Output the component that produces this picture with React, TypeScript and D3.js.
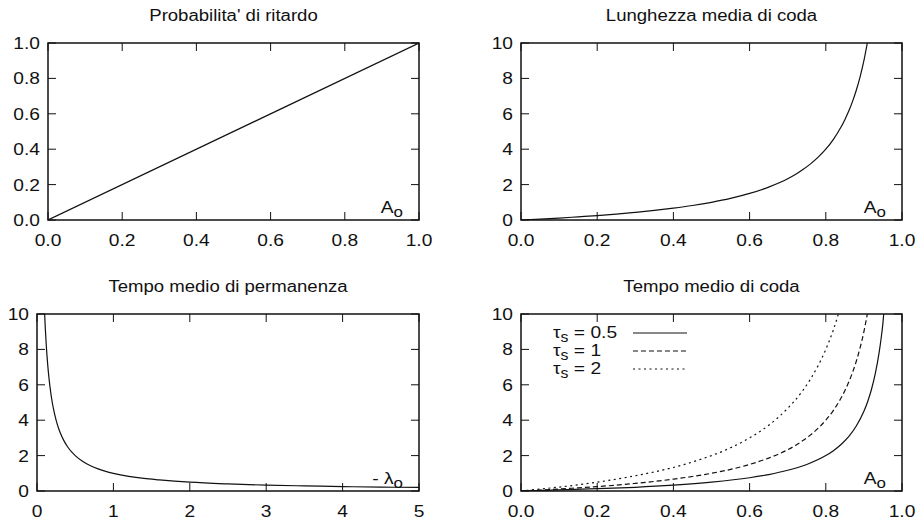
import React, { useEffect, useRef } from "react";
import * as d3 from "d3";

const W = 918;
const H = 522;
const FONT = "'Liberation Sans', Arial, Helvetica, sans-serif";

// panel titles
const titles = [
  "Probabilita' di ritardo",
  "Lunghezza media di coda",
  "Tempo medio di permanenza",
  "Tempo medio di coda",
];

// ticks
const ticks01 = [0, 0.2, 0.4, 0.6, 0.8, 1.0];
const ticks10 = [0, 2, 4, 6, 8, 10];
const ticks5 = [0, 1, 2, 3, 4, 5];

// probabilita' di ritardo vs A
const probA = [0, 1];
const probP = [0, 1];

// lunghezza media di coda vs A
const codaA = [0, 0.05, 0.1, 0.15, 0.2, 0.25, 0.3, 0.35, 0.4, 0.45, 0.5, 0.55, 0.6, 0.65, 0.7, 0.72, 0.74, 0.76, 0.78, 0.8, 0.82, 0.84, 0.85, 0.86, 0.87, 0.88, 0.89, 0.9, 0.909];
const codaL = [0, 0.05, 0.11, 0.18, 0.25, 0.33, 0.43, 0.54, 0.67, 0.82, 1.0, 1.22, 1.5, 1.86, 2.33, 2.57, 2.85, 3.17, 3.55, 4.0, 4.56, 5.25, 5.67, 6.14, 6.69, 7.33, 8.09, 9.0, 10.0];

// tempo medio di permanenza vs lambda
const permLambda = [0.1, 0.11, 0.12, 0.13, 0.14, 0.16, 0.18, 0.2, 0.22, 0.25, 0.28, 0.3, 0.35, 0.4, 0.45, 0.5, 0.6, 0.7, 0.8, 0.9, 1.0, 1.2, 1.4, 1.6, 1.8, 2.0, 2.5, 3.0, 3.5, 4.0, 4.5, 5.0];
const permT = [10, 9.09, 8.33, 7.69, 7.14, 6.25, 5.56, 5.0, 4.55, 4.0, 3.57, 3.33, 2.86, 2.5, 2.22, 2.0, 1.67, 1.43, 1.25, 1.11, 1.0, 0.83, 0.71, 0.63, 0.56, 0.5, 0.4, 0.33, 0.29, 0.25, 0.22, 0.2];

// tempo medio di coda vs A, three tau_s
const tau05A = [0, 0.1, 0.2, 0.3, 0.4, 0.5, 0.6, 0.65, 0.7, 0.75, 0.8, 0.82, 0.84, 0.86, 0.88, 0.9, 0.91, 0.92, 0.93, 0.94, 0.945, 0.95, 0.952];
const tau05W = [0, 0.06, 0.13, 0.21, 0.33, 0.5, 0.75, 0.93, 1.17, 1.5, 2.0, 2.28, 2.63, 3.07, 3.67, 4.5, 5.06, 5.75, 6.64, 7.83, 8.59, 9.5, 10.0];
const tau1A = codaA;
const tau1W = codaL;
const tau2A = [0, 0.05, 0.1, 0.15, 0.2, 0.25, 0.3, 0.35, 0.4, 0.45, 0.5, 0.55, 0.6, 0.65, 0.7, 0.72, 0.74, 0.76, 0.78, 0.8, 0.81, 0.82, 0.833];
const tau2W = [0, 0.11, 0.22, 0.35, 0.5, 0.67, 0.86, 1.08, 1.33, 1.64, 2.0, 2.44, 3.0, 3.71, 4.67, 5.14, 5.69, 6.33, 7.09, 8.0, 8.53, 9.11, 10.0];
const tauLabels = ["0.5", "1", "2"];

const SOLID = "none";
const DASHED = "5,3";
const DOTTED = "2,3.5";

const f1 = d3.format(".1f");
const f0 = d3.format("d");

type Series = { x: number[]; y: number[]; dash: string };
type PanelDef = {
  title: string;
  box: [number, number, number, number]; // left, top, right, bottom
  xDomain: [number, number];
  yDomain: [number, number];
  xTicks: number[];
  yTicks: number[];
  xFmt: (v: number) => string;
  yFmt: (v: number) => string;
  series: Series[];
  note: { pre: string; main: string; sub: string };
  legend?: string[];
};

const panels: PanelDef[] = [
  {
    title: titles[0], box: [48, 43, 419, 220], xDomain: [0, 1], yDomain: [0, 1],
    xTicks: ticks01, yTicks: ticks01, xFmt: f1, yFmt: f1,
    series: [{ x: probA, y: probP, dash: SOLID }],
    note: { pre: "", main: "A", sub: "o" },
  },
  {
    title: titles[1], box: [521, 43, 902, 220], xDomain: [0, 1], yDomain: [0, 10],
    xTicks: ticks01, yTicks: ticks10, xFmt: f1, yFmt: f0,
    series: [{ x: codaA, y: codaL, dash: SOLID }],
    note: { pre: "", main: "A", sub: "o" },
  },
  {
    title: titles[2], box: [37, 314, 419, 491], xDomain: [0, 5], yDomain: [0, 10],
    xTicks: ticks5, yTicks: ticks10, xFmt: f0, yFmt: f0,
    series: [{ x: permLambda, y: permT, dash: SOLID }],
    note: { pre: "- ", main: "\u03bb", sub: "o" },
  },
  {
    title: titles[3], box: [521, 314, 902, 491], xDomain: [0, 1], yDomain: [0, 10],
    xTicks: ticks01, yTicks: ticks10, xFmt: f1, yFmt: f0,
    series: [
      { x: tau05A, y: tau05W, dash: SOLID },
      { x: tau1A, y: tau1W, dash: DASHED },
      { x: tau2A, y: tau2W, dash: DOTTED },
    ],
    note: { pre: "", main: "A", sub: "o" },
    legend: tauLabels,
  },
];

const SX = 1.13; // glyphs in the original look a bit wide

function label(g: any, x: number, y: number, txt: string, size: number, anchor: string, sx = SX) {
  return g
    .append("text")
    .attr("transform", `translate(${x},${y}) scale(${sx},1)`)
    .attr("text-anchor", anchor)
    .attr("font-family", FONT)
    .attr("font-size", size)
    .attr("fill", "#111")
    .text(txt);
}

export default function App() {
  const ref = useRef<SVGSVGElement>(null);

  useEffect(() => {
    document.body.style.margin = "0";
    const svg = d3.select(ref.current);
    svg.selectAll("*").remove();

    panels.forEach((p, i) => {
      const [l, t, r, b] = p.box;
      const x = d3.scaleLinear().domain(p.xDomain).range([l, r]);
      const y = d3.scaleLinear().domain(p.yDomain).range([b, t]);
      const g = svg.append("g");
      const tick = 8;

      g.append("clipPath").attr("id", "clip" + i)
        .append("rect").attr("x", l).attr("y", t).attr("width", r - l).attr("height", b - t);

      // ticks, mirrored on all four sides, pointing inward
      p.xTicks.forEach((v) => {
        g.append("line").attr("x1", x(v)).attr("x2", x(v)).attr("y1", b).attr("y2", b - tick)
          .attr("stroke", "#111").attr("stroke-width", 1);
        g.append("line").attr("x1", x(v)).attr("x2", x(v)).attr("y1", t).attr("y2", t + tick)
          .attr("stroke", "#111").attr("stroke-width", 1);
        label(g, x(v), b + 26, p.xFmt(v), 17, "middle");
      });
      p.yTicks.forEach((v) => {
        g.append("line").attr("x1", l).attr("x2", l + tick).attr("y1", y(v)).attr("y2", y(v))
          .attr("stroke", "#111").attr("stroke-width", 1);
        g.append("line").attr("x1", r).attr("x2", r - tick).attr("y1", y(v)).attr("y2", y(v))
          .attr("stroke", "#111").attr("stroke-width", 1);
        label(g, l - 8, y(v) + 6, p.yFmt(v), 17, "end");
      });

      // curves
      p.series.forEach((s) => {
        const pts = s.x.map((xv, k) => [xv, s.y[k]] as [number, number]);
        const line = d3.line<[number, number]>()
          .x((d) => x(d[0]))
          .y((d) => y(d[1]))
          .curve(d3.curveMonotoneX);
        g.append("path")
          .attr("d", line(pts))
          .attr("fill", "none")
          .attr("stroke", "#111")
          .attr("stroke-width", 1.2)
          .attr("stroke-dasharray", s.dash)
          .attr("clip-path", `url(#clip${i})`);
      });

      // frame
      g.append("rect").attr("x", l).attr("y", t).attr("width", r - l).attr("height", b - t)
        .attr("fill", "none").attr("stroke", "#111").attr("stroke-width", 1.5);

      // title
      label(g, (l + r) / 2, t - 22, p.title, 16, "middle", 1.16);

      // variable note in the corner
      const nt = g.append("text")
        .attr("transform", `translate(${r - 16},${b - 7}) scale(${SX},1)`)
        .attr("text-anchor", "end")
        .attr("font-family", FONT)
        .attr("font-size", 17)
        .attr("fill", "#111");
      if (p.note.pre) nt.append("tspan").text(p.note.pre);
      nt.append("tspan").text(p.note.main);
      nt.append("tspan").attr("dy", 4).attr("font-size", 15).text(p.note.sub);

      // legend
      if (p.legend) {
        const dashes = [SOLID, DASHED, DOTTED];
        p.legend.forEach((lab, k) => {
          const ly = t + 19 + k * 18;
          const tx = g.append("text")
            .attr("transform", `translate(${l + 32},${ly + 5}) scale(${SX},1)`)
            .attr("font-family", FONT)
            .attr("font-size", 17)
            .attr("fill", "#111");
          tx.append("tspan").text("\u03c4");
          tx.append("tspan").attr("dy", 4).attr("font-size", 14).text("s");
          tx.append("tspan").attr("dy", -4).text(" = " + lab);
          g.append("line")
            .attr("x1", l + 112).attr("x2", l + 166)
            .attr("y1", ly).attr("y2", ly)
            .attr("stroke", "#111").attr("stroke-width", 1.2)
            .attr("stroke-dasharray", dashes[k]);
        });
      }
    });
  }, []);

  return <svg ref={ref} width={W} height={H} style={{ display: "block", background: "#fff" }} />;
}
